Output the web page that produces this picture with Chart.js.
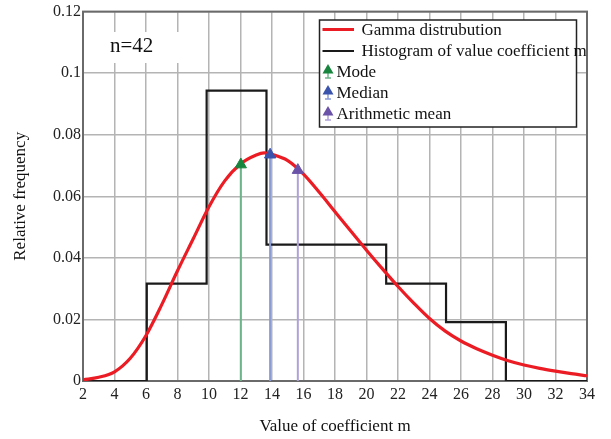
<!DOCTYPE html>
<html>
<head>
<meta charset="utf-8">
<script src="https://cdn.jsdelivr.net/npm/chart.js@4.4.1/dist/chart.umd.min.js"></script>
<style>
html, body { margin: 0; padding: 0; background: #fff; }
#wrap { width: 611px; height: 439px; }
</style>
</head>
<body>
<div id="wrap"><canvas id="chart"></canvas></div>
<script>
// gamma curve
const gammaX = [2, 3, 4, 5, 6, 7, 8, 9, 10, 11, 12, 13, 13.5, 14, 15, 16, 17, 18, 19, 20, 21, 22, 23, 24, 25, 26, 27, 28, 29, 30, 31, 32, 33, 34];
const gammaY = [0.0004, 0.0012, 0.0030, 0.0074, 0.0148, 0.0248, 0.0358, 0.0462, 0.0566, 0.0650, 0.0705, 0.0734, 0.0741, 0.0736, 0.0716, 0.0672, 0.0613, 0.0550, 0.0487, 0.0425, 0.0365, 0.0307, 0.0253, 0.0203, 0.0162, 0.0130, 0.0105, 0.0084, 0.0066, 0.0052, 0.0041, 0.0032, 0.0024, 0.0017];

// histogram of value coefficient m
const binEdges = [6.05, 9.85, 13.65, 17.45, 21.25, 25.05, 28.85];
const binHeights = [0.0316, 0.0943, 0.0443, 0.0443, 0.0316, 0.0191];

// mode / median / mean markers
const markerNames = ['Mode', 'Median', 'Arithmetic mean'];
const markerX = [12.02, 13.88, 15.64];
const markerY = [0.0703, 0.0735, 0.0685];
const markerColors = ['#18853f', '#3a54ad', '#6a52a8'];
const markerLineColors = ['#6db48b', '#8b9bd6', '#afa1d9'];

const xMin = 2, xMax = 34, xStep = 2;
const yMin = 0, yMax = 0.12, yStep = 0.02;
const sampleSize = 'n=42';

const serif = "'Liberation Serif', 'DejaVu Serif', serif";

// build histogram outline
const histPoints = [{x: xMin, y: 0}];
for (let i = 0; i < binHeights.length; i++) {
    histPoints.push({x: binEdges[i], y: i === 0 ? 0 : binHeights[i - 1]});
    histPoints.push({x: binEdges[i], y: binHeights[i]});
}
histPoints.push({x: binEdges[binEdges.length - 1], y: binHeights[binHeights.length - 1]});
histPoints.push({x: binEdges[binEdges.length - 1], y: 0});
histPoints.push({x: xMax, y: 0});

const datasets = [];
markerNames.forEach((name, i) => {
    datasets.push({
        label: name,
        data: [{x: markerX[i], y: 0}, {x: markerX[i], y: markerY[i]}],
        borderColor: markerLineColors[i],
        borderWidth: 2,
        pointStyle: 'triangle',
        pointRadius: [0, 6.5],
        pointBackgroundColor: markerColors[i],
        pointBorderColor: markerColors[i],
        pointBorderWidth: 1,
        showLine: true,
        order: 0
    });
});
datasets.push({
    label: 'Gamma distrubution',
    data: gammaX.map((x, i) => ({x: x, y: gammaY[i]})),
    borderColor: '#ec1c24',
    borderWidth: 3.2,
    pointRadius: 0,
    showLine: true,
    cubicInterpolationMode: 'monotone',
    order: 1
});
datasets.push({
    label: 'Histogram of value coefficient m',
    data: histPoints,
    borderColor: '#1a1a1a',
    borderWidth: 2.2,
    pointRadius: 0,
    showLine: true,
    order: 2
});

// border, n=42 box and legend drawn on the canvas
const extras = {
    id: 'extras',
    beforeDatasetsDraw(chart) {
        const {ctx, chartArea: a} = chart;
        ctx.save();
        ctx.strokeStyle = '#6a6a6a';
        ctx.lineWidth = 2;
        ctx.strokeRect(a.left, a.top, a.right - a.left, a.bottom - a.top);
        // n=42 label with white box
        ctx.fillStyle = '#fff';
        ctx.fillRect(92, 32, 100, 31);
        ctx.fillStyle = '#111';
        ctx.font = '21px ' + serif;
        ctx.textBaseline = 'middle';
        ctx.fillText(sampleSize, 110, 46);
        ctx.restore();
    },
    afterDraw(chart) {
        const {ctx, chartArea: a} = chart;
        ctx.save();
        ctx.beginPath();
        ctx.rect(a.left, a.top, a.right - a.left, a.bottom - a.top);
        ctx.clip();
        const bx = 319.5, by = 20, bw = 257, bh = 107;
        ctx.fillStyle = '#fff';
        ctx.fillRect(bx, by, bw, bh);
        ctx.strokeStyle = '#222';
        ctx.lineWidth = 1.5;
        ctx.strokeRect(bx, by, bw, bh);
        ctx.font = '17px ' + serif;
        ctx.textBaseline = 'middle';
        ctx.fillStyle = '#111';
        const rowY = [29.5, 51, 72, 93, 114];
        const lineSets = [datasets[3], datasets[4]];
        lineSets.forEach((ds, i) => {
            ctx.strokeStyle = ds.borderColor;
            ctx.lineWidth = ds.borderWidth;
            ctx.beginPath();
            ctx.moveTo(322.5, rowY[i]);
            ctx.lineTo(354, rowY[i]);
            ctx.stroke();
            ctx.fillText(ds.label, 361.5, rowY[i] + 1);
        });
        markerNames.forEach((name, i) => {
            const cy = rowY[i + 2];
            const cx = 328;
            ctx.strokeStyle = markerLineColors[i];
            ctx.lineWidth = 1.5;
            ctx.beginPath();
            ctx.moveTo(cx, cy - 2);
            ctx.lineTo(cx, cy + 6);
            ctx.moveTo(cx - 3, cy + 6);
            ctx.lineTo(cx + 3, cy + 6);
            ctx.stroke();
            ctx.fillStyle = markerColors[i];
            ctx.beginPath();
            ctx.moveTo(cx, cy - 8);
            ctx.lineTo(cx - 5.5, cy + 1.5);
            ctx.lineTo(cx + 5.5, cy + 1.5);
            ctx.closePath();
            ctx.fill();
            ctx.fillStyle = '#111';
            ctx.fillText(name, 336.5, cy + 1);
        });
        ctx.restore();
    }
};

new Chart(document.getElementById('chart'), {
    type: 'scatter',
    data: {datasets: datasets},
    options: {
        responsive: true,
        maintainAspectRatio: false,
        animation: false,
        layout: {padding: {top: 11, right: 24, left: 0, bottom: 0}},
        plugins: {legend: {display: false}, tooltip: {enabled: false}},
        scales: {
            x: {
                type: 'linear',
                min: xMin,
                max: xMax,
                border: {display: false},
                grid: {color: '#b4b4b4', lineWidth: 1.5, drawTicks: false},
                ticks: {
                    stepSize: xStep,
                    autoSkip: false,
                    maxRotation: 0,
                    padding: 4,
                    color: '#222',
                    font: {family: serif, size: 16}
                },
                title: {
                    display: true,
                    text: 'Value of coefficient m',
                    color: '#111',
                    font: {family: serif, size: 17},
                    padding: {top: 0, bottom: 2}
                },
                afterFit(s) { s.height = 58; }
            },
            y: {
                min: yMin,
                max: yMax,
                border: {display: false},
                grid: {color: '#b4b4b4', lineWidth: 1.5, drawTicks: false},
                ticks: {
                    stepSize: yStep,
                    padding: 2,
                    color: '#222',
                    font: {family: serif, size: 16},
                    callback: v => String(+v.toFixed(2))
                },
                title: {
                    display: true,
                    text: 'Relative frequency',
                    color: '#111',
                    font: {family: serif, size: 17},
                    padding: {top: 10, bottom: 0}
                },
                afterFit(s) { s.width = 83; }
            }
        }
    },
    plugins: [extras]
});
</script>
</body>
</html>
